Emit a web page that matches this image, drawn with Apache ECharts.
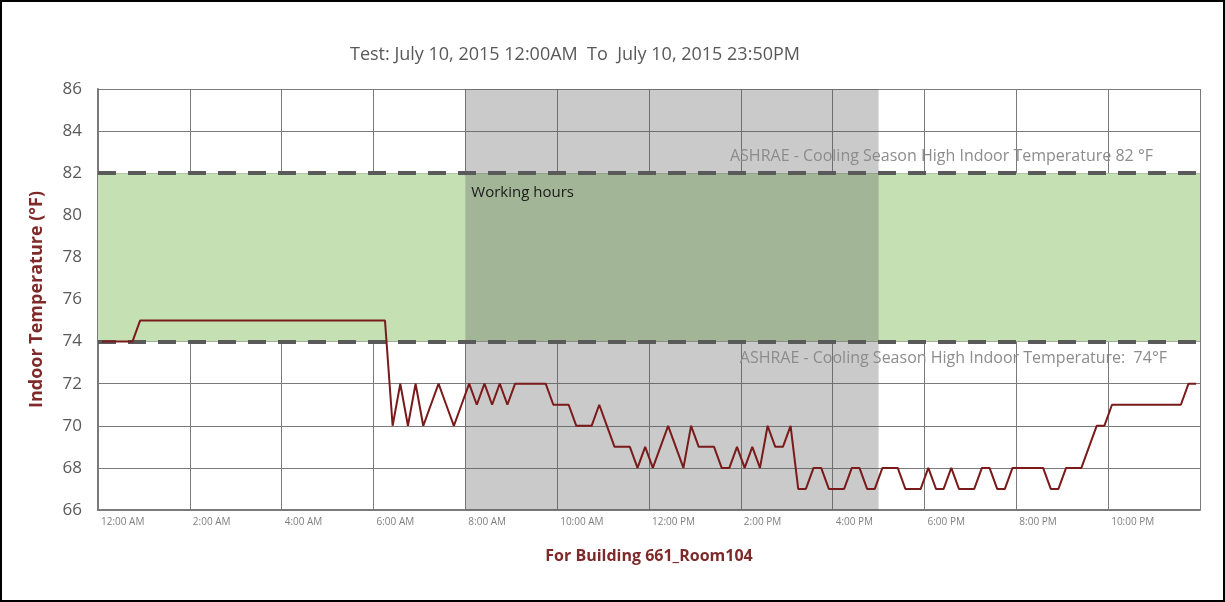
<!DOCTYPE html>
<html>
<head>
<meta charset="utf-8">
<script src="https://cdn.jsdelivr.net/npm/echarts@6/dist/echarts.min.js"></script>
<style>
  html, body { margin: 0; padding: 0; background: #fff; }
  #frame {
    width: 1221px;
    height: 598px;
    border: 2px solid #000;
    position: relative;
  }
  #chart { width: 1221px; height: 598px; }
</style>
</head>
<body>
<div id="frame"><div id="chart"></div></div>
<script>
// tick labels, one every 2 hours
const tickLabels = ['12:00 AM', '2:00 AM', '4:00 AM', '6:00 AM', '8:00 AM', '10:00 AM',
  '12:00 PM', '2:00 PM', '4:00 PM', '6:00 PM', '8:00 PM', '10:00 PM']
// indoor temperature every 10 min, 00:00 .. 23:50
const temps = [
  74, 74, 74, 74, 74, 75, 75, 75, 75, 75, 75, 75,
  75, 75, 75, 75, 75, 75, 75, 75, 75, 75, 75, 75,
  75, 75, 75, 75, 75, 75, 75, 75, 75, 75, 75, 75,
  75, 75, 70, 72, 70, 72, 70, 71, 72, 71, 70, 71,
  72, 71, 72, 71, 72, 71, 72, 72, 72, 72, 72, 71,
  71, 71, 70, 70, 70, 71, 70, 69, 69, 69, 68, 69,
  68, 69, 70, 69, 68, 70, 69, 69, 69, 68, 68, 69,
  68, 69, 68, 70, 69, 69, 70, 67, 67, 68, 68, 67,
  67, 67, 68, 68, 67, 67, 68, 68, 68, 67, 67, 67,
  68, 67, 67, 68, 67, 67, 67, 68, 68, 67, 67, 68,
  68, 68, 68, 68, 67, 67, 68, 68, 68, 69, 70, 70,
  71, 71, 71, 71, 71, 71, 71, 71, 71, 71, 72, 72
]
const comfortLow = 74
const comfortHigh = 82
const workStart = 8 * 60   // minutes
const workEnd = 17 * 60

const chart = echarts.init(document.getElementById('chart'))
const lineData = temps.map((v, i) => [i * 10 + 5, v])
const red = '#7f2a2a'
const grey = '#595959'

chart.setOption({
  animation: false,
  textStyle: { fontFamily: '"Open Sans", Lato, sans-serif' },
  title: {
    text: 'Test: July 10, 2015 12:00AM  To  July 10, 2015 23:50PM',
    left: 343,
    top: 39,
    textStyle: { fontSize: 18, fontWeight: 'normal', color: grey },
  },
  grid: { left: 96, right: 23, top: 87, bottom: 90 },
  xAxis: {
    type: 'value',
    min: 0,
    max: 1440,
    interval: 120,
    name: 'For Building 661_Room104',
    nameLocation: 'middle',
    nameGap: 38,
    nameTextStyle: { fontSize: 16, fontWeight: 'bold', color: red },
    axisLine: { show: true, lineStyle: { color: '#7a7a7a', width: 2 } },
    axisTick: { show: false },
    splitLine: { show: true, lineStyle: { color: '#7a7a7a', width: 1 } },
    axisLabel: {
      fontSize: 10,
      color: '#7f7f7f',
      align: 'left',
      margin: 7,
      padding: [0, 0, 0, 3],
      showMaxLabel: false,
      formatter: v => tickLabels[v / 120] || '',
    },
  },
  yAxis: {
    type: 'value',
    min: 66,
    max: 86,
    interval: 2,
    name: 'Indoor Temperature (°F)',
    nameLocation: 'middle',
    nameGap: 52,
    nameTextStyle: { fontSize: 18, fontWeight: 'bold', color: red },
    axisLine: { show: true, lineStyle: { color: '#7a7a7a', width: 2 } },
    axisTick: { show: false },
    splitLine: { show: true, lineStyle: { color: '#7a7a7a', width: 1 } },
    axisLabel: { fontSize: 17, color: grey, margin: 16 },
  },
  series: [
    {
      // comfort band + working hours shading
      type: 'line',
      data: [],
      z: 1,
      markArea: {
        silent: true,
        data: [
          [
            { yAxis: comfortLow, itemStyle: { color: '#c5e0b3' } },
            { yAxis: comfortHigh },
          ],
          [
            {
              xAxis: workStart,
              yAxis: 66,
              itemStyle: { color: 'rgba(90,90,90,0.32)' },
              label: {
                show: true,
                position: [6, 96],
                formatter: 'Working hours',
                fontSize: 15,
                color: '#1a1a1a',
              },
            },
            { xAxis: workEnd, yAxis: 86 },
          ],
        ],
      },
    },
    {
      // ASHRAE limits
      type: 'line',
      data: [],
      z: 2,
      markLine: {
        silent: true,
        symbol: 'none',
        lineStyle: { color: '#5a5a5a', type: [18, 12], width: 4 },
        data: [
          {
            yAxis: comfortHigh,
            label: {
              position: 'insideEndTop',
              formatter: 'ASHRAE - Cooling Season High Indoor Temperature 82 °F',
              fontSize: 16,
              color: '#8c8c8c',
              padding: [0, 42, 4, 0],
            },
          },
          {
            yAxis: comfortLow,
            label: {
              position: 'insideEndBottom',
              formatter: 'ASHRAE - Cooling Season High Indoor Temperature:  74°F',
              fontSize: 16,
              color: '#8c8c8c',
              padding: [4, 28, 0, 0],
            },
          },
        ],
      },
    },
    {
      name: 'Indoor Temperature',
      type: 'line',
      z: 5,
      data: lineData,
      showSymbol: false,
      lineStyle: { color: '#7b1a1a', width: 2 },
    },
  ],
})
</script>
</body>
</html>
